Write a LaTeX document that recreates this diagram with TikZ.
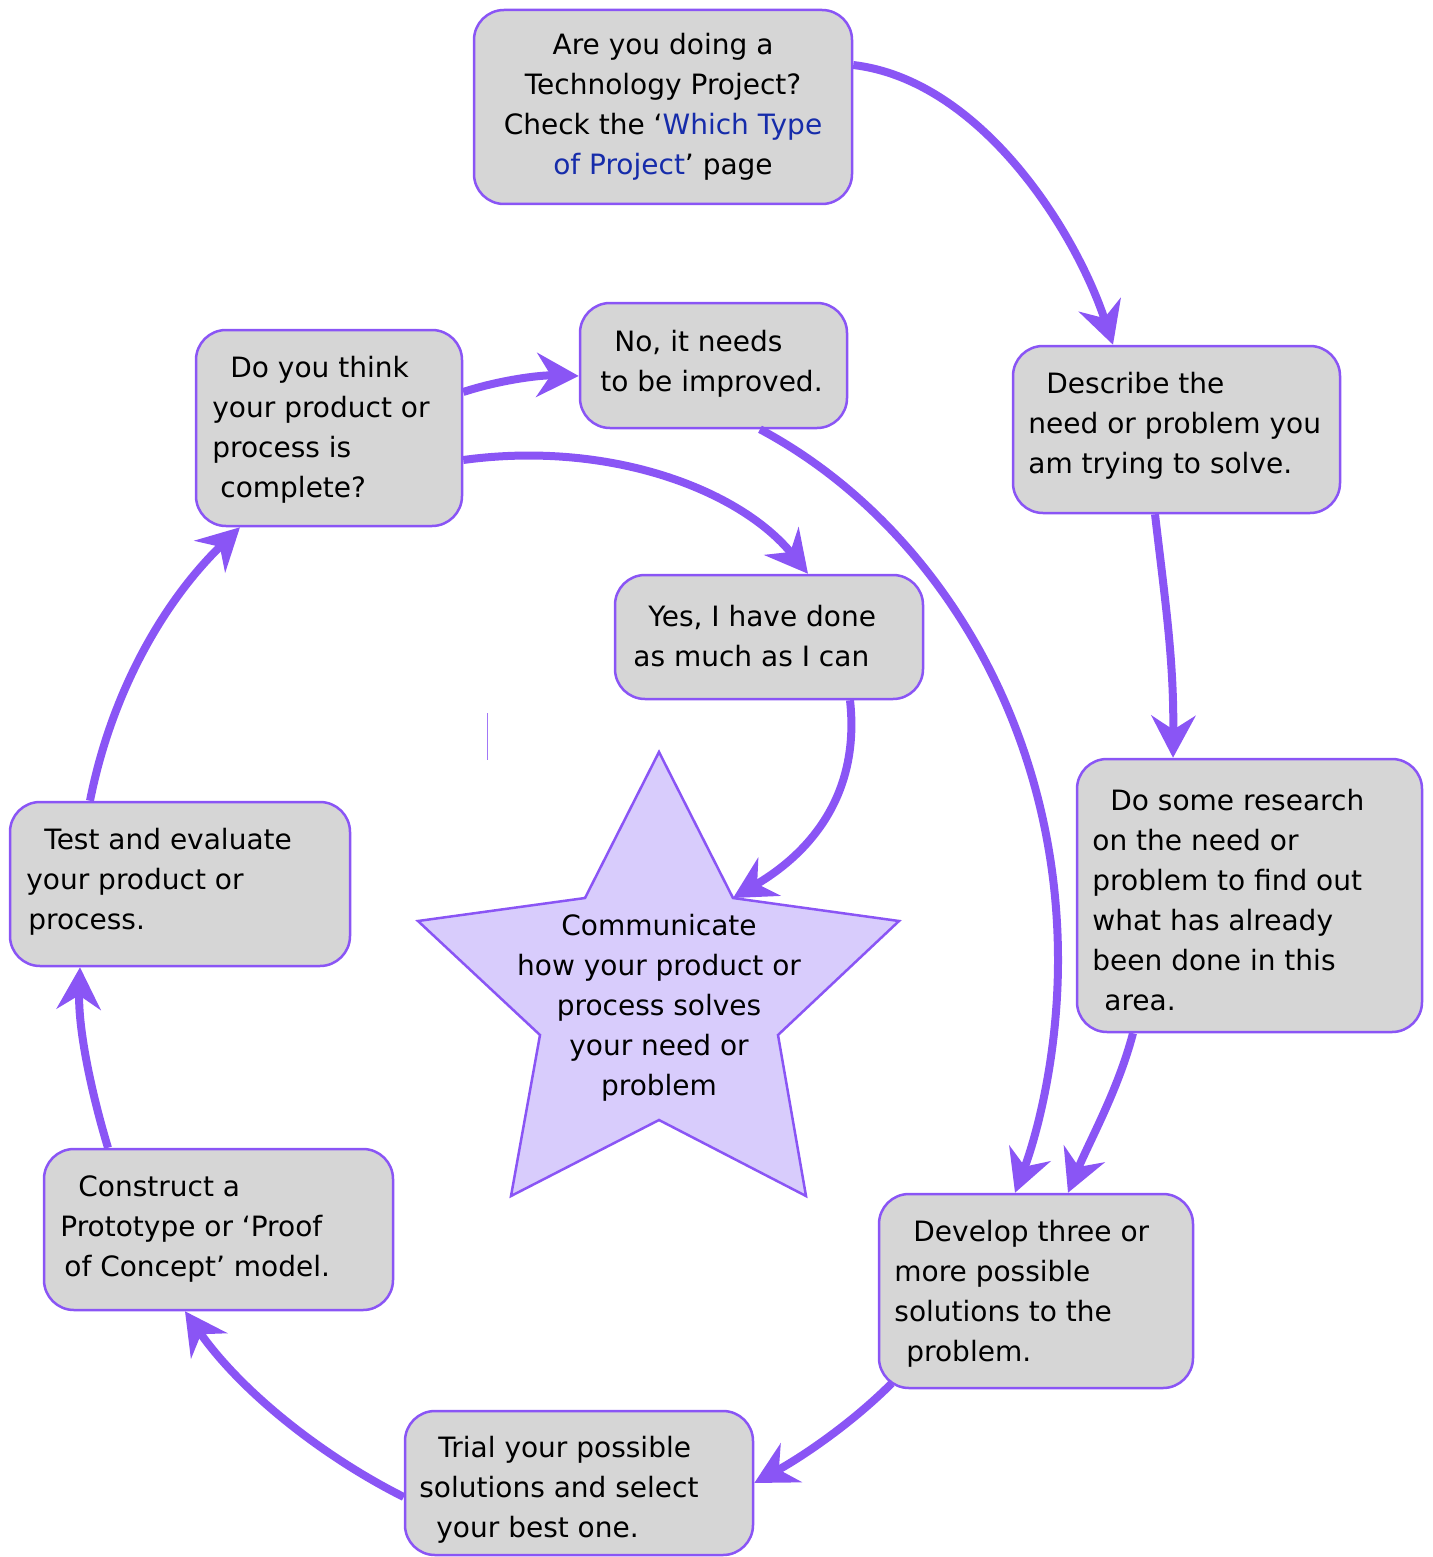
\documentclass[tikz,border=0pt]{standalone}
\usepackage{fontspec}
\setmainfont{DejaVu Sans}
\usetikzlibrary{arrows.meta}
\definecolor{pur}{RGB}{138,85,245}
\definecolor{boxgray}{RGB}{214,214,214}
\definecolor{starfill}{RGB}{216,204,252}
\definecolor{linkblue}{RGB}{22,44,170}
\begin{document}
\begin{tikzpicture}[x=0.5pt,y=-0.5pt,
  box/.style={draw=pur, line width=1.25pt, fill=boxgray, rounded corners=15pt, inner sep=0pt},
  txt/.style={font=\fontsize{14pt}{20pt}\selectfont, align=left, anchor=west, inner sep=0pt},
  conn/.style={draw=pur, line width=4pt, -{Stealth[length=21pt,width=22pt,inset=7pt]}}]
\useasboundingbox (0,0) rectangle (1432,1557);

% boxes
\node[box, minimum width=189pt,   minimum height=97pt]   (b1)  at (663,107)    {};
\node[box, minimum width=133.5pt, minimum height=62.5pt] (b2)  at (713.5,365.5) {};
\node[box, minimum width=133pt,   minimum height=98pt]   (b3)  at (329,428)    {};
\node[box, minimum width=163.5pt, minimum height=83.5pt] (b4)  at (1176.5,429.5) {};
\node[box, minimum width=154pt,   minimum height=62pt]   (b5)  at (769,637)    {};
\node[box, minimum width=172.5pt, minimum height=136.5pt](b6)  at (1249.5,895.5) {};
\node[box, minimum width=170pt,   minimum height=82pt]   (b7)  at (180,884)    {};
\node[box, minimum width=174.5pt, minimum height=80.5pt] (b8)  at (218.5,1229.5) {};
\node[box, minimum width=157pt,   minimum height=97pt]   (b9)  at (1036,1291)  {};
\node[box, minimum width=174pt,   minimum height=72pt]   (b10) at (579,1483)   {};

% star
\coordinate (s1) at (659,752);
\coordinate (s2) at (733,898);
\coordinate (s3) at (899,921);
\coordinate (s4) at (778,1035);
\coordinate (s5) at (806,1196);
\coordinate (s6) at (659,1120);
\coordinate (s7) at (511,1196);
\coordinate (s8) at (540,1035);
\coordinate (s9) at (418,921);
\coordinate (s10) at (585,898);
\draw[draw=pur, line width=1.25pt, fill=starfill, line join=miter]
  (s1)--(s2)--(s3)--(s4)--(s5)--(s6)--(s7)--(s8)--(s9)--(s10)--cycle;

% texts
\node[txt, align=center, anchor=center] (t1) at (663,107)
  {Are you doing a\\Technology Project?\\Check the ‘\textcolor{linkblue}{Which Type}\\\textcolor{linkblue}{of Project}’ page};
\node[txt] (t2) at (600,364) {\hspace*{7pt}No, it needs\\to be improved.};
\node[txt] (t3) at (212,430) {\hspace*{9pt}Do you think\\your product or\\process is\\\hspace*{4pt}complete?};
\node[txt] (t4) at (1028,426) {\hspace*{9pt}Describe the\\need or problem you\\am trying to solve.};
\node[txt] (t5) at (633,636) {\hspace*{7.5pt}Yes, I have done\\as much as I can};
\node[txt] (t6) at (1092,900) {\hspace*{9pt}Do some research\\on the need or\\problem to find out\\what has already\\been done in this\\\hspace*{6pt}area.};
\node[txt] (t7) at (26,882) {\hspace*{9pt}Test and evaluate\\your product or\\\hspace*{1pt}process.};
\node[txt] (t8) at (60,1229) {\hspace*{9pt}Construct a\\Prototype or ‘Proof\\\hspace*{2pt}of Concept’ model.};
\node[txt] (t9) at (894,1294) {\hspace*{9.5pt}Develop three or\\more possible\\solutions to the\\\hspace*{6pt}problem.};
\node[txt] (t10) at (419,1490) {\hspace*{9.5pt}Trial your possible\\solutions and select\\\hspace*{8.5pt}your best one.};
\node[txt, align=center, anchor=center] (st) at (659,1008)
  {Communicate\\how your product or\\process solves\\your need or\\problem};

% connectors
\draw[conn] ([yshift=21pt]b1.east) .. controls (980,80) and (1075,230) .. ([xshift=-31.75pt]b4.north);
\draw[conn] ([xshift=-10.75pt]b4.south) .. controls (1165,600) and (1174,660) .. ([xshift=-38.25pt]b6.north);
\draw[conn] ([xshift=-58.25pt]b6.south) .. controls (1118,1090) and (1090,1140) .. ([xshift=16pt]b9.north);
\draw[conn] ([xshift=23.25pt]b2.south) .. controls (930,520) and (1058,720) .. (1058,960)
  .. controls (1058,1060) and (1035,1140) .. ([xshift=-10.5pt]b9.north);
\draw[conn] ([shift={(7pt,3pt)}]b9.south west) .. controls (850,1425) and (800,1458) .. (b10.east);
\draw[conn] ([yshift=-7pt]b10.west) .. controls (320,1455) and (240,1390) .. ([xshift=-16.75pt]b8.south);
\draw[conn] ([xshift=-55.25pt]b8.north) .. controls (92,1095) and (78,1030) .. ([xshift=-50pt]b7.south);
\draw[conn] ([xshift=-45pt]b7.north) .. controls (112,690) and (165,600) .. ([xshift=-44.5pt]b3.south);
\draw[conn] ([yshift=18pt]b3.east) .. controls (500,380) and (540,375) .. ([yshift=-5.25pt]b2.west);
\draw[conn] ([yshift=-16pt]b3.east) .. controls (610,440) and (740,490) .. ([xshift=19.5pt]b5.north);
\draw[conn] ([xshift=40.5pt]b5.south) .. controls (860,790) and (815,850) .. (s2);

% small stray mark
\draw[pur!80, line width=0.5pt] (487,713) -- (487,760);
\end{tikzpicture}
\end{document}
